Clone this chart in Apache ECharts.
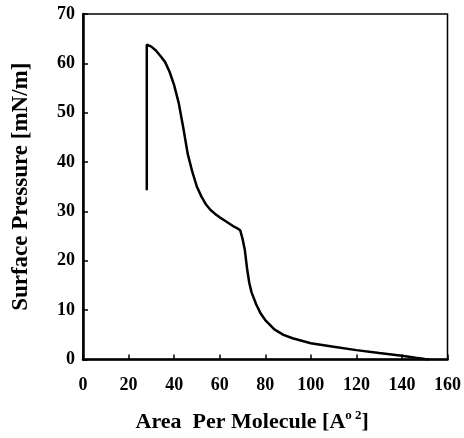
<!DOCTYPE html>
<html>
<head>
<meta charset="utf-8">
<script src="https://cdn.jsdelivr.net/npm/echarts@6/dist/echarts.min.js"></script>
<style>
  html, body { margin: 0; padding: 0; background: #fff; }
  #chart { width: 464px; height: 438px; }
</style>
</head>
<body>
<div id="chart"></div>
<script>
// isotherm: area [A^2] vs surface pressure [mN/m]
const areaValues = [
  28, 28, 30, 32, 34, 36, 38, 40, 42, 44, 46, 48, 50, 52, 54, 56, 58, 60,
  62, 64, 66, 68, 69, 70, 71, 72, 73, 74, 76, 78, 80, 84, 88, 92, 96, 100,
  110, 120, 130, 140, 146, 150, 152
];
const pressureValues = [
  34.3, 63.8, 63.4, 62.6, 61.5, 60.3, 58.3, 55.6, 52, 47, 41.6, 38, 35, 33,
  31.4, 30.3, 29.5, 28.8, 28.2, 27.6, 27, 26.5, 26.2, 24.5, 22.3, 18.5, 15.5,
  13.6, 11.2, 9.3, 8, 6.1, 5, 4.3, 3.8, 3.3, 2.6, 1.9, 1.3, 0.75, 0.35, 0.1, 0
];
const xTicks = { min: 0, max: 160, interval: 20 };
const yTicks = { min: 0, max: 70, interval: 10 };

const fontFamily = "'Liberation Serif', 'DejaVu Serif', serif";
const chart = echarts.init(document.getElementById("chart"));

chart.setOption({
  animation: false,
  backgroundColor: "#fff",
  grid: {
    left: 83,
    right: 16,
    top: 14,
    bottom: 77,
    show: true,
    borderColor: "#000",
    borderWidth: 1.5
  },
  xAxis: {
    type: "value",
    ...xTicks,
    name: "Area  Per Molecule [A{sup|o 2}]",
    nameLocation: "middle",
    nameGap: 50,
    nameTextStyle: {
      fontFamily,
      fontWeight: "bold",
      fontSize: 22,
      color: "#000",
      padding: [0, 26, 0, 0],
      rich: {
        sup: {
          fontFamily,
          fontWeight: "bold",
          fontSize: 13,
          verticalAlign: "top",
          padding: [0, 0, 12, 0],
          color: "#000"
        }
      }
    },
    axisLine: { show: true, lineStyle: { color: "#000", width: 2.5 } },
    axisTick: { show: true, inside: true, length: 5, lineStyle: { color: "#000", width: 1.5 } },
    axisLabel: {
      fontFamily,
      fontWeight: "bold",
      fontSize: 18,
      color: "#000",
      margin: 17
    },
    splitLine: { show: false }
  },
  yAxis: {
    type: "value",
    ...yTicks,
    name: "Surface Pressure [mN/m]",
    nameLocation: "middle",
    nameGap: 50,
    nameTextStyle: {
      fontFamily,
      fontWeight: "bold",
      fontSize: 23,
      color: "#000"
    },
    axisLine: { show: true, lineStyle: { color: "#000", width: 2.5 } },
    axisTick: { show: true, inside: true, length: 5, lineStyle: { color: "#000", width: 1.5 } },
    axisLabel: {
      fontFamily,
      fontWeight: "bold",
      fontSize: 18,
      color: "#000",
      margin: 8
    },
    splitLine: { show: false }
  },
  series: [
    {
      type: "line",
      data: areaValues.map((a, i) => [a, pressureValues[i]]),
      showSymbol: false,
      smooth: false,
      lineStyle: { color: "#000", width: 2.5 },
      z: 3
    }
  ]
});
</script>
</body>
</html>
